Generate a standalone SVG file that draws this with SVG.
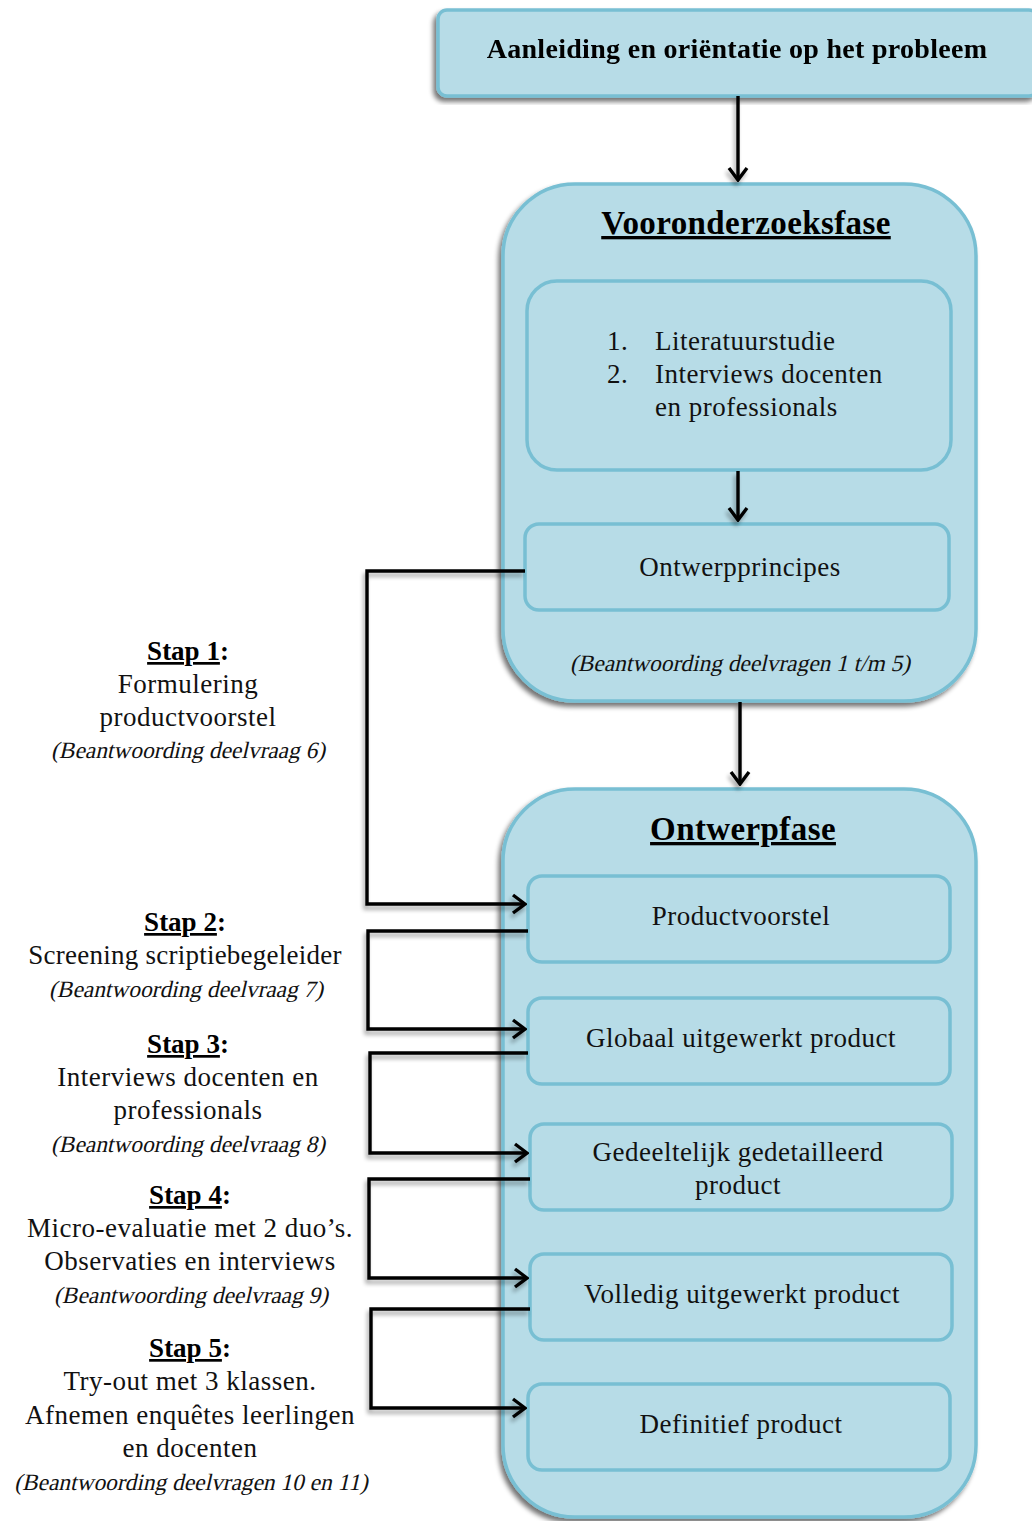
<svg xmlns="http://www.w3.org/2000/svg" width="1032" height="1521" viewBox="0 0 1032 1521">
<defs>
<filter id="sh" x="-10%" y="-10%" width="120%" height="120%">
<feGaussianBlur in="SourceAlpha" stdDeviation="2.5"/>
<feOffset dx="-3" dy="4" result="b"/>
<feComponentTransfer><feFuncA type="linear" slope="0.55"/></feComponentTransfer>
<feMerge><feMergeNode/><feMergeNode in="SourceGraphic"/></feMerge>
</filter>
<filter id="lsh" x="-20%" y="-20%" width="140%" height="140%">
<feGaussianBlur in="SourceAlpha" stdDeviation="2"/>
<feOffset dx="-2" dy="4" result="b"/>
<feComponentTransfer><feFuncA type="linear" slope="0.35"/></feComponentTransfer>
<feMerge><feMergeNode/><feMergeNode in="SourceGraphic"/></feMerge>
</filter>
<marker id="ah" viewBox="0 0 16 22" refX="14" refY="11" markerWidth="16" markerHeight="22" markerUnits="userSpaceOnUse" orient="auto">
<path d="M2,2 L14,11 L2,20" fill="none" stroke="#000" stroke-width="3.4"/>
</marker>
</defs>
<style>
.box{fill:#b7dce7;stroke:#78bfd3;stroke-width:3.5}
.inner{fill:#b7dce7;stroke:#78bfd3;stroke-width:3.5}
.t{font-family:"Liberation Serif","DejaVu Serif",serif;font-size:27px;letter-spacing:0.5px;fill:#111;text-anchor:middle}
.b{font-family:"Liberation Serif","DejaVu Serif",serif;font-weight:bold;font-size:27px;fill:#000;text-anchor:middle}
.h{font-family:"Liberation Serif","DejaVu Serif",serif;font-weight:bold;font-size:33px;letter-spacing:0.4px;fill:#000;text-anchor:middle;text-decoration:underline}
.i{font-family:"Liberation Serif","DejaVu Serif",serif;font-size:23.4px;fill:#111;text-anchor:middle}
.c{fill:none;stroke:#000;stroke-width:3.4}
</style>

<g id="aanleiding" filter="url(#sh)">
<rect class="box" x="438" y="10" width="600" height="86" rx="9"/>
<text class="b" x="737" y="58" style="font-size:28px;letter-spacing:0.3px">Aanleiding en oriëntatie op het probleem</text>
</g>

<g id="vooronderzoeksfase">
<rect class="box" x="503" y="184" width="473" height="517" rx="72" filter="url(#sh)"/>
<text class="h" x="746" y="234">Vooronderzoeksfase</text>
<g id="lijst">
<rect class="inner" x="527" y="281" width="424" height="189" rx="30"/>
<text class="t" style="text-anchor:start" x="607" y="350">1.</text>
<text class="t" style="text-anchor:start" x="655" y="350">Literatuurstudie</text>
<text class="t" style="text-anchor:start" x="607" y="383">2.</text>
<text class="t" style="text-anchor:start" x="655" y="383">Interviews docenten</text>
<text class="t" style="text-anchor:start" x="655" y="416">en professionals</text>
</g>
<g id="ontwerpprincipes">
<rect class="inner" x="525" y="524" width="424" height="86" rx="14"/>
<text class="t" x="740" y="576">Ontwerpprincipes</text>
</g>
<text class="i" transform="translate(740,671) skewX(-13)">(Beantwoording deelvragen 1 t/m 5)</text>
</g>

<g id="ontwerpfase">
<rect class="box" x="503" y="789" width="473" height="728" rx="72" filter="url(#sh)"/>
<text class="h" x="743" y="840">Ontwerpfase</text>
<g id="productvoorstel">
<rect class="inner" x="528" y="876" width="422" height="86" rx="14"/>
<text class="t" x="741" y="925">Productvoorstel</text>
</g>
<g id="globaal">
<rect class="inner" x="528" y="998" width="422" height="86" rx="14"/>
<text class="t" x="741" y="1047">Globaal uitgewerkt product</text>
</g>
<g id="gedeeltelijk">
<rect class="inner" x="530" y="1124" width="422" height="86" rx="14"/>
<text class="t" x="738" y="1161">Gedeeltelijk gedetailleerd</text>
<text class="t" x="738" y="1194">product</text>
</g>
<g id="volledig">
<rect class="inner" x="530" y="1254" width="422" height="86" rx="14"/>
<text class="t" x="742" y="1303">Volledig uitgewerkt product</text>
</g>
<g id="definitief">
<rect class="inner" x="528" y="1384" width="422" height="86" rx="14"/>
<text class="t" x="741" y="1433">Definitief product</text>
</g>
</g>

<g id="stap1">
<text class="b" x="188" y="660"><tspan text-decoration="underline">Stap 1</tspan>:</text>
<text class="t" x="188" y="693">Formulering</text>
<text class="t" x="188" y="726">productvoorstel</text>
<text class="i" transform="translate(188,758) skewX(-13)">(Beantwoording deelvraag 6)</text>
</g>
<g id="stap2">
<text class="b" x="185" y="931"><tspan text-decoration="underline">Stap 2</tspan>:</text>
<text class="t" x="185" y="964" style="letter-spacing:0.25px">Screening scriptiebegeleider</text>
<text class="i" transform="translate(186,997) skewX(-13)">(Beantwoording deelvraag 7)</text>
</g>
<g id="stap3">
<text class="b" x="188" y="1053"><tspan text-decoration="underline">Stap 3</tspan>:</text>
<text class="t" x="188" y="1086">Interviews docenten en</text>
<text class="t" x="188" y="1119">professionals</text>
<text class="i" transform="translate(188,1152) skewX(-13)">(Beantwoording deelvraag 8)</text>
</g>
<g id="stap4">
<text class="b" x="190" y="1204"><tspan text-decoration="underline">Stap 4</tspan>:</text>
<text class="t" x="190" y="1237">Micro-evaluatie met 2 duo’s.</text>
<text class="t" x="190" y="1270">Observaties en interviews</text>
<text class="i" transform="translate(191,1303) skewX(-13)">(Beantwoording deelvraag 9)</text>
</g>
<g id="stap5">
<text class="b" x="190" y="1357"><tspan text-decoration="underline">Stap 5</tspan>:</text>
<text class="t" x="190" y="1390">Try-out met 3 klassen.</text>
<text class="t" x="190" y="1424">Afnemen enquêtes leerlingen</text>
<text class="t" x="190" y="1457">en docenten</text>
<text class="i" transform="translate(191,1490) skewX(-13)">(Beantwoording deelvragen 10 en 11)</text>
</g>

<g id="connectors" filter="url(#lsh)">
<path class="c" d="M738,96 V180" marker-end="url(#ah)"/>
<path class="c" d="M738,471 V520" marker-end="url(#ah)"/>
<path class="c" d="M740,702 V784" marker-end="url(#ah)"/>
<path class="c" d="M525,571 H367 V904 H525" marker-end="url(#ah)"/>
<path class="c" d="M528,931 H368 V1029 H525" marker-end="url(#ah)"/>
<path class="c" d="M528,1053 H370 V1153 H527" marker-end="url(#ah)"/>
<path class="c" d="M530,1179 H369 V1278 H527" marker-end="url(#ah)"/>
<path class="c" d="M530,1309 H371 V1408 H525" marker-end="url(#ah)"/>
</g>
</svg>
